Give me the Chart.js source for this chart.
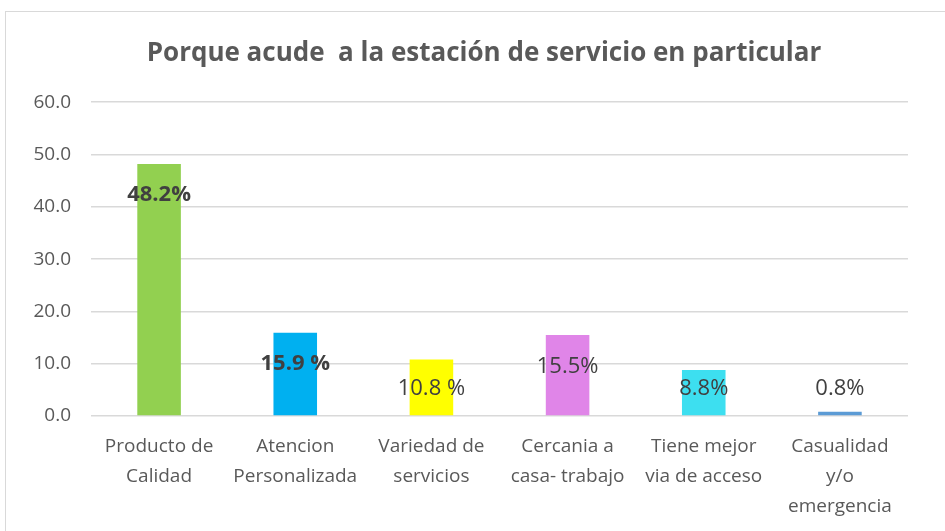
<!DOCTYPE html>
<html lang="es">
<head>
    <meta charset="UTF-8">
    <title>Porque acude a la estación de servicio</title>
    <style>
        body { margin: 0; background: #fff; overflow: hidden; }
        #frame {
            position: absolute; left: 5px; top: 11px; width: 960px; height: 540px;
            border: 1px solid #d9d9d9; box-sizing: border-box;
        }
        #wrap { position: absolute; left: 0; top: 0; width: 945px; height: 531px; }
    </style>
</head>
<body>
    <div id="frame"></div>
    <div id="wrap"><canvas id="chart"></canvas></div>

    <script src="https://cdn.jsdelivr.net/npm/chart.js"></script>
    <script>
        const categories = [
            ['Producto de', 'Calidad'],
            ['Atencion', 'Personalizada'],
            ['Variedad de', 'servicios'],
            ['Cercania a', 'casa- trabajo'],
            ['Tiene mejor', 'via de acceso'],
            ['Casualidad', 'y/o', 'emergencia']
        ];
        const values = [48.2, 15.9, 10.8, 15.5, 8.8, 0.8];
        const valueLabels = ['48.2%', '15.9 %', '10.8 %', '15.5%', '8.8%', '0.8%'];
        const labelBold = [true, true, false, false, false, false];
        // where each label sits, in axis units (Excel put them by hand)
        const labelAt = [42.3, 9.9, 5.2, 9.4, 5.2, 5.2];
        const barColors = ['#92d050', '#00b0f0', '#ffff00', '#e085e8', '#3ddff0', '#5b9bd5'];

        const FONT = '"Open Sans", "Liberation Sans", sans-serif';

        const labelPlugin = {
            id: 'valueLabels',
            afterLayout(chart) {
                // title sits centred on the frame, not on the canvas
                const t = chart.titleBlock;
                if (t) { t.left += 25; t.right += 25; }
            },
            afterDatasetsDraw(chart) {
                const ctx = chart.ctx;
                const meta = chart.getDatasetMeta(0);
                const y = chart.scales.y;
                ctx.save();
                ctx.textAlign = 'center';
                ctx.textBaseline = 'middle';
                ctx.fillStyle = '#404040';
                meta.data.forEach((bar, i) => {
                    ctx.font = (labelBold[i] ? 'bold ' : '') + '22px ' + FONT;
                    ctx.fillText(valueLabels[i], bar.x, y.getPixelForValue(labelAt[i]));
                });
                ctx.restore();
            }
        };

        new Chart(document.getElementById('chart'), {
            type: 'bar',
            data: {
                labels: categories,
                datasets: [{
                    data: values,
                    backgroundColor: barColors,
                    categoryPercentage: 1,
                    barPercentage: 0.32
                }]
            },
            options: {
                responsive: true,
                maintainAspectRatio: false,
                animation: false,
                layout: { padding: { top: 0, right: 37, bottom: 0, left: 10 } },
                plugins: {
                    legend: { display: false },
                    tooltip: { enabled: false },
                    title: {
                        display: true,
                        text: 'Porque acude  a la estación de servicio en particular',
                        color: '#595959',
                        font: { family: FONT, size: 26, weight: 'bold', lineHeight: 1.2 },
                        padding: { top: 38, bottom: 33 }
                    }
                },
                scales: {
                    x: {
                        afterFit(s) { s.height = 115; },
                        grid: { display: false },
                        border: { display: false },
                        ticks: {
                            color: '#595959',
                            font: { family: FONT, size: 19, lineHeight: 1.58 },
                            maxRotation: 0,
                            autoSkip: false,
                            padding: 8
                        }
                    },
                    y: {
                        min: 0,
                        max: 60,
                        afterFit(s) { s.width = 81; },
                        grid: { color: '#d9d9d9', lineWidth: 1.5, drawTicks: false },
                        border: { display: false },
                        ticks: {
                            stepSize: 10,
                            color: '#595959',
                            font: { family: FONT, size: 19 },
                            padding: 20,
                            callback: v => v.toFixed(1)
                        }
                    }
                }
            },
            plugins: [labelPlugin]
        });
    </script>
</body>
</html>
